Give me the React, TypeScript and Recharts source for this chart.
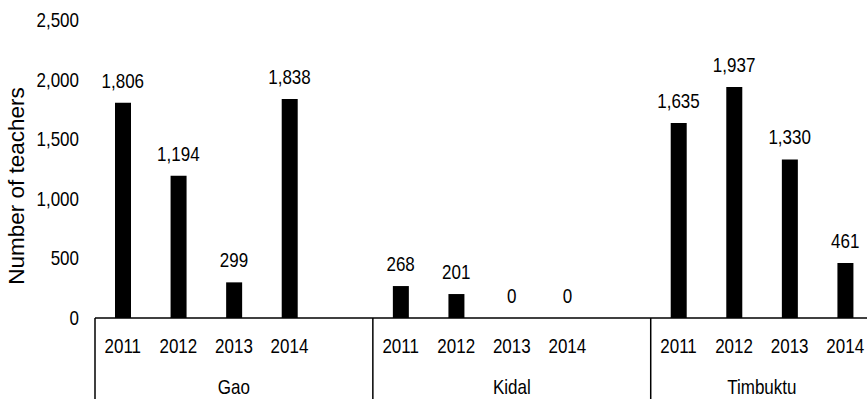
import React from 'react';
import { ComposedChart, Bar, Line, XAxis, YAxis, LabelList } from 'recharts';

const regions = ['Gao', 'Kidal', 'Timbuktu'];
const years = ['2011', '2012', '2013', '2014'];
const gaoTeachers = [1806, 1194, 299, 1838];
const kidalTeachers = [268, 201, 0, 0];
const timbuktuTeachers = [1635, 1937, 1330, 461];
const yTicks = [0, 500, 1000, 1500, 2000, 2500];

const FONT = '"Liberation Sans", Arial, sans-serif';
const FS = 17;

// one row per bar, with an empty slot between regions
const seriesByRegion = [gaoTeachers, kidalTeachers, timbuktuTeachers];
const rows: { key: string; year: string; teachers: number | null; region: number; first: boolean; slots: number }[] = [];
regions.forEach((r, ri) => {
  const last = ri === regions.length - 1;
  const slots = last ? years.length : years.length + 1;
  years.forEach((y, yi) => {
    rows.push({ key: `${r}-${y}`, year: y, teachers: seriesByRegion[ri][yi], region: ri, first: yi === 0, slots });
  });
  if (!last) rows.push({ key: `${r}-gap`, year: '', teachers: null, region: ri, first: false, slots });
});

const fmt = (v: number) => v.toLocaleString('en-US');

// slightly tall lettering
const TallText = ({ x, y, anchor = 'middle', children }: any) => (
  <text
    transform={`translate(${x} ${y}) scale(1 1.2)`}
    textAnchor={anchor}
    fontSize={FS}
    fontFamily={FONT}
    fill="#000"
  >
    {children}
  </text>
);

const GroupTick = (props: any) => {
  const { x, y, payload } = props;
  const row = rows[payload.index];
  const half = payload.offset ?? 27.8;
  const left = x - half;
  return (
    <g>
      {row.year && <TallText x={x} y={y + 35}>{row.year}</TallText>}
      {row.first && (
        <>
          <line x1={left} y1={y} x2={left} y2={y + 81} stroke="#000" strokeWidth={1.5} />
          <TallText x={left + half * row.slots} y={y + 76}>{regions[row.region]}</TallText>
        </>
      )}
    </g>
  );
};

const ValueTick = (props: any) => {
  const { x, y, payload } = props;
  return <TallText x={x} y={y + 7} anchor="end">{fmt(payload.value)}</TallText>;
};

const ValueLabel = (props: any) => {
  const { x, y, value } = props;
  if (value === null || value === undefined) return null;
  return <TallText x={x} y={y - 15}>{fmt(value)}</TallText>;
};

export default function App() {
  return (
    <div style={{ position: 'fixed', left: 0, top: 0, width: 867, height: 399, overflow: 'hidden', background: '#fff' }}>
      <ComposedChart width={873} height={399} data={rows} margin={{ top: 20, right: 0, bottom: 0, left: 0 }} barCategoryGap={0}>
        <XAxis
          dataKey="key"
          interval={0}
          height={81}
          axisLine={{ stroke: '#000', strokeWidth: 1.5 }}
          tickLine={false}
          tickSize={0}
          tickMargin={0}
          tick={<GroupTick />}
        />
        <YAxis
          width={95}
          domain={[0, 2500]}
          ticks={yTicks}
          axisLine={false}
          tickLine={false}
          tickMargin={10}
          tick={<ValueTick />}
          label={{
            content: () => (
              <text
                x={24}
                y={186}
                transform="rotate(-90 24 186)"
                textAnchor="middle"
                fontSize={22.5}
                fontFamily={FONT}
                fill="#000"
              >
                Number of teachers
              </text>
            ),
          }}
        />
        <Bar dataKey="teachers" fill="#000" barSize={16} isAnimationActive={false} />
        {/* invisible series carrying the value labels, so zero values still get one */}
        <Line dataKey="teachers" stroke="none" dot={false} activeDot={false} isAnimationActive={false}>
          <LabelList dataKey="teachers" content={<ValueLabel />} />
        </Line>
      </ComposedChart>
    </div>
  );
}
